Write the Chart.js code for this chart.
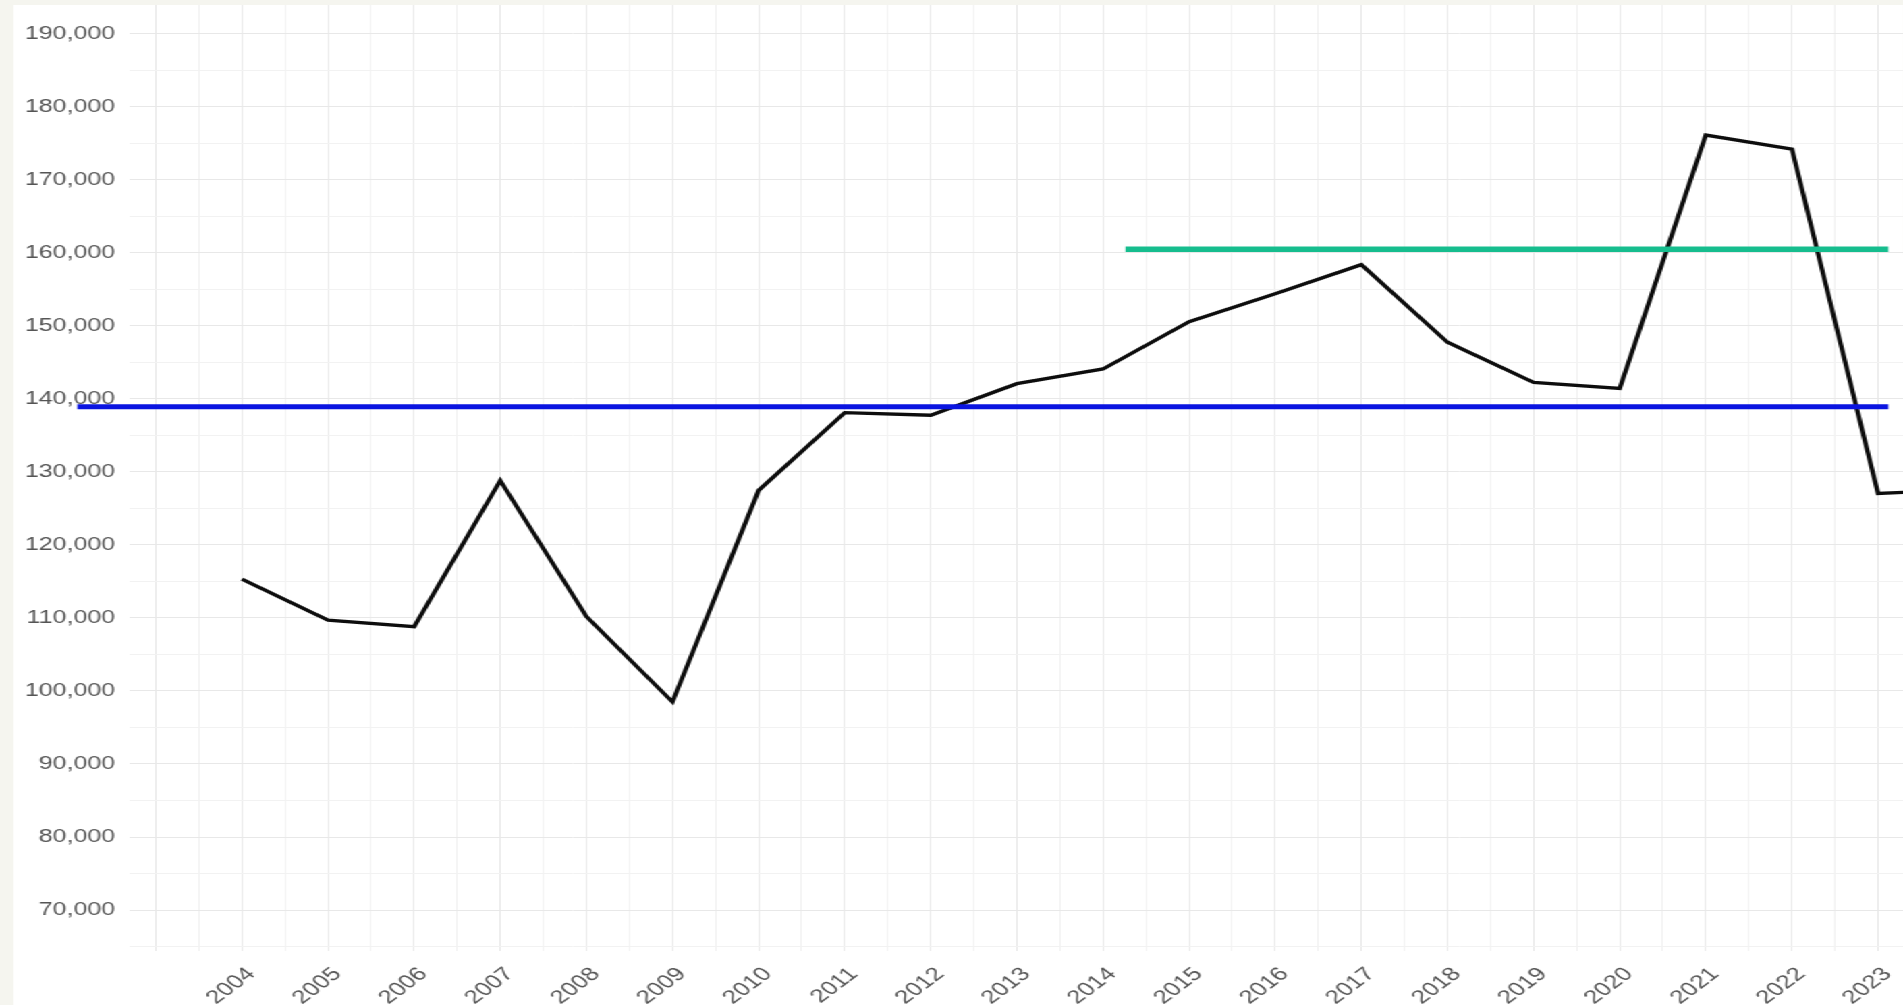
<!DOCTYPE html>
<html>
<head>
<meta charset="utf-8">
<script src="https://cdn.jsdelivr.net/npm/chart.js@4/dist/chart.umd.min.js"></script>
<style>
  html, body { margin: 0; padding: 0; overflow: hidden; background: #f5f5ef; }
  /* the reference is a horizontally stretched screenshot, so the chart is drawn narrow and stretched */
  #wrap { position: absolute; left: 0; top: 0; width: 1410px; height: 1005px; transform: scaleX(1.34965); transform-origin: 0 0; }
  #panel { position: absolute; left: 9.6px; top: 5px; right: 0; bottom: 0; background: #fff; }
  #chart { position: absolute; left: 0; top: 0; }
</style>
</head>
<body>
<div id="wrap">
  <div id="panel"></div>
  <canvas id="chart" width="1410" height="1005"></canvas>
</div>
<script>
// yearly values (2024 sits just past the right edge)
var years = [2004, 2005, 2006, 2007, 2008, 2009, 2010, 2011, 2012, 2013, 2014,
             2015, 2016, 2017, 2018, 2019, 2020, 2021, 2022, 2023, 2024];
var values = [115300, 109700, 108800, 128800, 110200, 98500, 127450, 138100, 137750, 142070, 144070,
              150550, 154370, 158360, 147730, 142240, 141400, 176100, 174180, 127040, 127520];

// reference lines
var longMean = 138900;
var longSpan = [2002.09, 2023.12];
var recentMean = 160450;
var recentSpan = [2014.26, 2023.12];

// tick labels
var tickYears = [2004, 2005, 2006, 2007, 2008, 2009, 2010, 2011, 2012, 2013,
                 2014, 2015, 2016, 2017, 2018, 2019, 2020, 2021, 2022, 2023];
var yTickValues = [70000, 80000, 90000, 100000, 110000, 120000, 130000,
                   140000, 150000, 160000, 170000, 180000, 190000];
var yMin = 64400, yMax = 193900;
var xMin = 2002.70, xMax = 2023.29;

var FONT = "'Liberation Sans', Arial, sans-serif";

function commas(v) {
    return String(v).replace(/\B(?=(\d{3})+(?!\d))/g, ',');
}

var lineData = years.map(function(y, i) { return {x: y, y: values[i]}; });
var longLine = longSpan.map(function(x) { return {x: x, y: longMean}; });
var recentLine = recentSpan.map(function(x) { return {x: x, y: recentMean}; });

var ctx = document.getElementById("chart");
var myChart = new Chart(ctx, {
    type: 'line',
    data: {
        datasets: [
            {
                data: recentLine,
                borderColor: '#16bd8e',
                borderWidth: 5.5,
                pointRadius: 0,
                borderCapStyle: 'butt',
                clip: false
            },
            {
                data: longLine,
                borderColor: '#0a14e0',
                borderWidth: 5,
                pointRadius: 0,
                borderCapStyle: 'butt',
                clip: false
            },
            {
                data: lineData,
                borderColor: '#0d0d0d',
                borderWidth: 3.4,
                pointRadius: 0,
                tension: 0
            }
        ]
    },
    options: {
        responsive: false,
        animation: false,
        layout: { padding: { top: 5, left: 0, right: 0, bottom: 0 } },
        plugins: {
            legend: { display: false },
            tooltip: { enabled: false }
        },
        scales: {
            x: {
                type: 'linear',
                min: xMin,
                max: xMax,
                afterFit: function(s) { s.height = 54; s.paddingLeft = 0; s.paddingRight = 0; },
                border: { display: false },
                grid: {
                    drawTicks: false,
                    color: function(c) { return c.tick && Number.isInteger(c.tick.value) ? '#e8e8e8' : '#f2f2f2'; }
                },
                ticks: {
                    stepSize: 0.5,
                    includeBounds: false,
                    autoSkip: false,
                    minRotation: 45,
                    maxRotation: 45,
                    padding: 12,
                    labelOffset: 7,
                    color: '#555',
                    font: { family: FONT, size: 19 },
                    callback: function(v) { return tickYears.indexOf(v) >= 0 ? String(v) : ''; }
                }
            },
            y: {
                min: yMin,
                max: yMax,
                // major ticks plus a minor one halfway below each
                afterBuildTicks: function(s) {
                    var t = [];
                    yTickValues.forEach(function(v) {
                        t.push({value: v - 5000});
                        t.push({value: v});
                    });
                    s.ticks = t;
                },
                afterFit: function(s) { s.width = 96.3; s.paddingTop = 0; s.paddingBottom = 0; },
                border: { display: false },
                grid: {
                    drawTicks: false,
                    color: function(c) { return c.tick && yTickValues.indexOf(c.tick.value) >= 0 ? '#e8e8e8' : '#f2f2f2'; }
                },
                ticks: {
                    autoSkip: false,
                    padding: 11,
                    color: '#555',
                    font: { family: FONT, size: 18.5 },
                    callback: function(v) { return yTickValues.indexOf(v) >= 0 ? commas(v) : ''; }
                }
            }
        }
    }
});
</script>
</body>
</html>
